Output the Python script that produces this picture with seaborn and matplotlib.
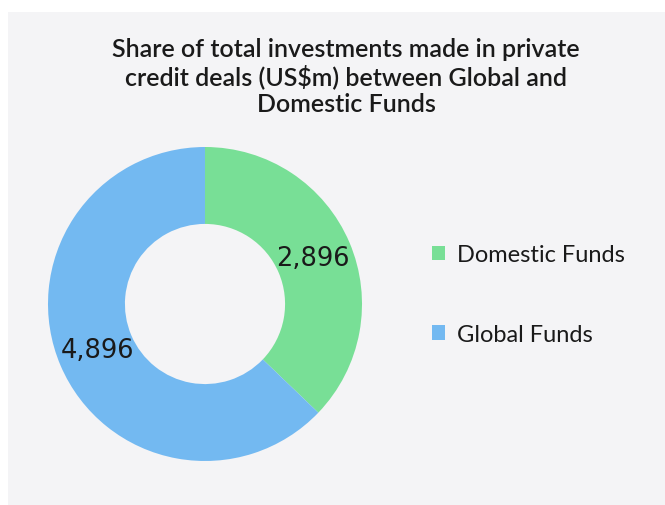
import matplotlib.pyplot as plt
import matplotlib.patches as mpatches
import seaborn as sns

# data
categories = ['Domestic Funds', 'Global Funds']
values = [2896, 4896]
colors = ['#78df96', '#73b9f1']
title = 'Share of total investments made in private\ncredit deals (US$m) between Global and\nDomestic Funds'

sns.set_theme(style='white')
plt.rcParams['font.family'] = ['Lato', 'DejaVu Sans']

W, H = 665, 506
fig = plt.figure(figsize=(W / 100, H / 100), dpi=100)
fig.patch.set_facecolor('white')

# grey panel
fig.add_artist(mpatches.Rectangle((8 / W, 0), 1 - 8 / W, (H - 13) / H,
                                  transform=fig.transFigure, facecolor='#f4f4f6',
                                  edgecolor='none', zorder=0))

fig.text(346 / W, 1 - 77 / H, title, ha='center', va='center', fontsize=18,
         fontweight='semibold', color='#1a1a1a', linespacing=1.17)

cx, cy, r = 205, 305, 157
ax = fig.add_axes([(cx - r) / W, (H - cy - r) / H, 2 * r / W, 2 * r / H])
ax.set_facecolor('none')
wedges, _, autotexts = ax.pie(values, colors=colors, startangle=90, counterclock=False,
                              radius=1, wedgeprops=dict(width=0.49, edgecolor='none'),
                              autopct=lambda p: f'{p * sum(values) / 100:,.0f}',
                              pctdistance=0.745,
                              textprops=dict(fontsize=18.5, color='#1a1a1a',
                                             family='DejaVu Sans'))
ax.set_xlim(-1, 1)
ax.set_ylim(-1, 1)
ax.set_aspect('equal')
ax.axis('off')

leg = fig.legend(wedges, categories, loc='center left',
                 bbox_to_anchor=(432 / W, 1 - 295.5 / H), frameon=False,
                 borderpad=0, borderaxespad=0,
                 fontsize=17, handlelength=0.55, handleheight=0.55,
                 handletextpad=0.5, labelspacing=2.48)
for t in leg.get_texts():
    t.set_color('#1a1a1a')

fig.savefig('out.png', dpi=100, facecolor=fig.get_facecolor())
